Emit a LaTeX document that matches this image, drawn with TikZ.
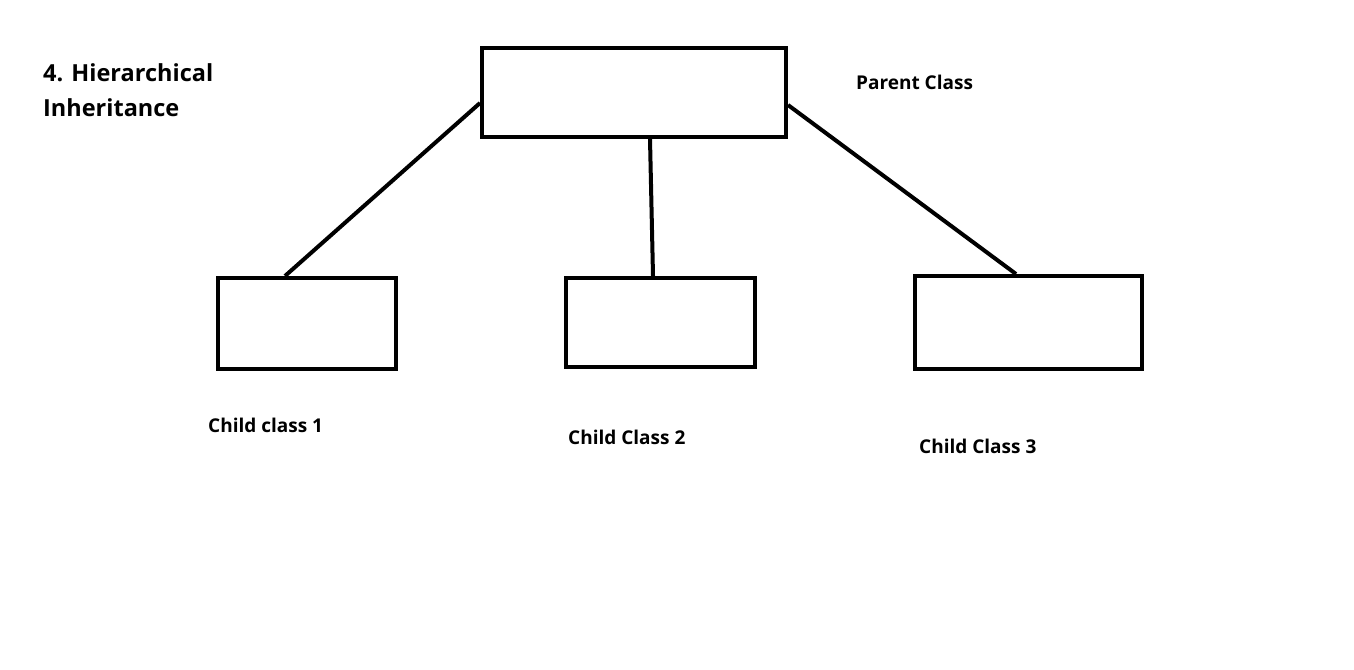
\documentclass[tikz,border=0pt]{standalone}
\usepackage{fontspec}
\setmainfont{Open Sans}
\usetikzlibrary{calc}
\tikzset{
  classbox/.style={draw=black, line width=4pt, rectangle, inner sep=0pt},
  link/.style={line width=4pt, black},
  lbl/.style={font=\bfseries\fontsize{19}{22}\selectfont, anchor=west, inner sep=0pt}
}
\begin{document}
\begin{tikzpicture}[x=1pt,y=-1pt]
\fill[white] (0,0) rectangle (1354,669);
\useasboundingbox (0,0) rectangle (1354,669);
\node[classbox, minimum width=304pt, minimum height=89pt] (p) at (634,92.5) {};
\node[classbox, minimum width=178pt, minimum height=91pt] (c1) at (307,323.5) {};
\node[classbox, minimum width=189pt, minimum height=89pt] (c2) at (660.5,322.5) {};
\node[classbox, minimum width=227pt, minimum height=93pt] (c3) at (1028.5,322.5) {};
\draw[link] ($(p.west)+(0,10.5)$) -- ($(c1.north west)+(69,0)$);
\draw[link] ($(p.south west)+(170,0)$) -- ($(c2.north west)+(89,0)$);
\draw[link] ($(p.east)+(0,12.5)$) -- ($(c3.north west)+(103,0)$);
\node[font=\bfseries\fontsize{23.5}{35}\selectfont, anchor=north west, align=left, inner sep=0pt] (t) at (43,63) {4. Hierarchical\\Inheritance};
\node[lbl] (lp) at (856,82) {Parent Class};
\node[lbl] (l1) at (208,425) {Child class 1};
\node[lbl] (l2) at (568,437) {Child Class 2};
\node[lbl] (l3) at (919,446) {Child Class 3};
\end{tikzpicture}
\end{document}
